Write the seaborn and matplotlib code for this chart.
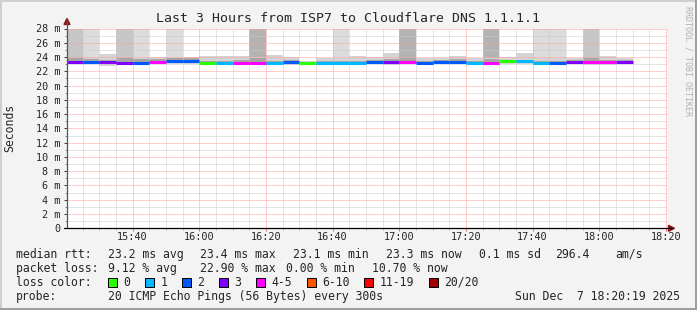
import matplotlib
matplotlib.use("Agg")
import matplotlib.pyplot as plt
from matplotlib.lines import Line2D
from matplotlib.patches import Polygon, Rectangle
import seaborn as sns
import numpy as np

# ---------------- data ----------------
title = "Last 3 Hours from ISP7 to Cloudflare DNS 1.1.1.1"
start_min = 15 * 60 + 20 + 19 / 60.0          # 15:20:19
end_min = start_min + 180                     # 18:20:19
first_bin_min = 15 * 60 + 20                  # bins of 5 minutes
bin_len_min = 5

median_ms = [23.25, 23.25, 23.25, 23.1, 23.1, 23.25, 23.4, 23.4, 23.1, 23.1,
             23.1, 23.1, 23.1, 23.25, 23.1, 23.1, 23.1, 23.1, 23.25, 23.25,
             23.25, 23.1, 23.25, 23.25, 23.1, 23.1, 23.4, 23.4, 23.1, 23.1,
             23.25, 23.25, 23.25, 23.25]
loss_pings = [3, 2, 3, 3, 2, 4, 2, 2, 0, 1,
              4, 4, 1, 2, 0, 1, 1, 1, 2, 3,
              4, 2, 2, 2, 1, 4, 0, 1, 1, 2,
              3, 4, 4, 3]
smoke_lo_ms = [23.0, 23.0, 22.8, 22.95, 23.0, 23.0, 23.0, 23.0, 23.0, 23.0,
               23.0, 23.0, 23.0, 22.85, 23.0, 23.0, 23.0, 23.0, 23.0, 22.85,
               23.0, 23.0, 23.0, 23.0, 23.0, 23.0, 23.0, 23.0, 23.0, 23.0,
               23.0, 22.95, 22.85, 23.0]
smoke_core_ms = [23.9, 23.7, 23.6, 23.8, 23.7, 23.7, 23.8, 23.8, 23.5, 23.5,
                 23.6, 23.9, 23.5, 23.6, 23.3, 23.4, 23.5, 23.5, 23.6, 23.7,
                 23.9, 23.5, 23.6, 23.7, 23.5, 23.7, 23.5, 23.6, 23.5, 23.5,
                 23.6, 23.8, 23.6, 23.6]
smoke_hi_ms = [23.9, 24.0, 24.4, 23.9, 23.8, 24.0, 23.9, 24.0, 24.1, 24.1,
               24.2, 24.0, 24.3, 24.0, 23.5, 23.8, 23.9, 24.2, 24.0, 24.5,
               23.9, 23.8, 23.9, 24.1, 23.9, 23.9, 24.0, 24.5, 23.9, 23.9,
               23.8, 23.9, 24.1, 23.9]
# number of very slow pings (smoke above the top of the graph)
slow_pings = [2, 1, 0, 2, 1, 0, 1, 0, 0, 0,
              0, 3, 0, 0, 0, 0, 1, 0, 0, 0,
              3, 0, 0, 0, 0, 3, 0, 0, 1, 1,
              0, 2, 0, 0]

x_tick_minutes = [940, 960, 980, 1000, 1020, 1040, 1060, 1080, 1100]
x_tick_labels = ["15:40", "16:00", "16:20", "16:40", "17:00", "17:20", "17:40", "18:00", "18:20"]
y_ticks = list(range(0, 29, 2))
y_tick_labels = ["0"] + [f"{v} m" for v in y_ticks[1:]]

loss_labels = ["0", "1", "2", "3", "4-5", "6-10", "11-19", "20/20"]
loss_colors = ["#26ff00", "#00b8ff", "#0059ff", "#7e00ff", "#ff00ff", "#ff5500", "#ff0000", "#a00000"]
loss_limits = [0, 1, 2, 3, 5, 10, 19, 20]

rtt_stats = ["23.2 ms avg", "23.4 ms max", "23.1 ms min", "23.3 ms now", "0.1 ms sd", "296.4", "am/s"]
loss_stats = ["9.12 % avg", "22.90 % max", "0.00 % min", "10.70 % now"]
probe_text = "20 ICMP Echo Pings (56 Bytes) every 300s"
stamp_text = "Sun Dec  7 18:20:19 2025"

# ---------------- style ----------------
sns.set_style("white")
plt.rcParams["font.family"] = ["DejaVu Sans Mono"]

W, H = 697, 310
def fx(x):
    return x / W
def fy(y):
    return 1 - y / H

fig = plt.figure(figsize=(W / 100, H / 100), dpi=100, facecolor="#f3f3f3")

AX_L, AX_R, AX_T, AX_B = 67, 667, 28.5, 228.3
ax = fig.add_axes([fx(AX_L), fy(AX_B), (AX_R - AX_L) / W, (AX_B - AX_T) / H])
ax.set_facecolor("white")
ax.set_xlim(start_min, end_min)
ax.set_ylim(0, 28)
for s in ax.spines.values():
    s.set_visible(False)

# smoke
shade = {1: "#dcdcdc", 2: "#c6c6c6", 3: "#b3b3b3"}
lefts = [first_bin_min + i * bin_len_min for i in range(len(median_ms))]
for i, left in enumerate(lefts):
    if slow_pings[i] > 0:
        ax.bar(left, 28.5 - smoke_hi_ms[i], bottom=smoke_hi_ms[i], width=bin_len_min,
               align="edge", color=shade[slow_pings[i]], linewidth=0, zorder=1)
    ax.bar(left, smoke_hi_ms[i] - smoke_lo_ms[i], bottom=smoke_lo_ms[i], width=bin_len_min,
           align="edge", color="#d4d4d4", linewidth=0, zorder=1.1)
    ax.bar(left, smoke_core_ms[i] - median_ms[i] + 0.1, bottom=median_ms[i] - 0.1,
           width=bin_len_min, align="edge", color="#a6a6a6", linewidth=0, zorder=1.2)

# grid (dotted, drawn over the smoke as rrdtool does)
def style_grid(ln):
    ln.set_dashes([1, 1])
    ln.set_snap(True)

for m in np.arange(925, 1101, 5):
    if m % 20 == 0:
        continue
    style_grid(ax.axvline(m, color="#cccccc", lw=0.72, zorder=2))
for m in x_tick_minutes:
    style_grid(ax.axvline(m, color="#ffa0a0", lw=0.72, zorder=2.1))
for v in range(1, 28, 2):
    style_grid(ax.axhline(v, color="#cccccc", lw=0.72, zorder=2))
for v in y_ticks[1:]:
    style_grid(ax.axhline(v, color="#ffa0a0", lw=0.72, zorder=2.1))

# median line coloured by loss
def loss_color(n):
    for lim, c in zip(loss_limits, loss_colors):
        if n <= lim:
            return c
    return loss_colors[-1]

for i, left in enumerate(lefts):
    ax.hlines(median_ms[i], left, left + bin_len_min, colors=loss_color(loss_pings[i]),
              lw=2.2, zorder=3, capstyle="butt")

# ticks
ax.set_xticks(x_tick_minutes, x_tick_labels)
ax.set_xticks([m for m in np.arange(925, 1101, 5) if m % 20 != 0], minor=True)
ax.set_yticks(y_ticks, y_tick_labels)
ax.set_yticks(list(range(1, 28, 2)), minor=True)
ax.tick_params(axis="x", which="major", length=2.2, width=0.72, color="#e07070",
               pad=0.8, labelsize=7.4, direction="out", bottom=True)
ax.tick_params(axis="x", which="minor", length=1.4, width=0.72, color="#b0b0b0",
               direction="out", bottom=True)
ax.tick_params(axis="y", which="major", length=2.2, width=0.72, color="#404040",
               pad=2.3, labelsize=7.3, direction="out", left=True)
ax.tick_params(axis="y", which="minor", length=1.4, width=0.72, color="#909090",
               direction="out", left=True)

# axis lines and arrows
fig.add_artist(Line2D([fx(AX_L), fx(AX_L)], [fy(AX_B), fy(21)], color="#555555", lw=0.9))
fig.add_artist(Line2D([fx(AX_L - 3), fx(672)], [fy(AX_B), fy(AX_B)], color="#000000", lw=0.9))
fig.add_artist(Polygon([[fx(64), fy(24.5)], [fx(70), fy(24.5)], [fx(67), fy(18.5)]],
                       closed=True, color="#8b1a1a", transform=fig.transFigure))
fig.add_artist(Polygon([[fx(668.5), fy(AX_B - 3)], [fx(668.5), fy(AX_B + 3)], [fx(674.5), fy(AX_B)]],
                       closed=True, color="#8b1a1a", transform=fig.transFigure))

# texts
fig.text(fx(348), fy(19), title, ha="center", va="center", fontsize=9.5)
fig.text(fx(10), fy(128), "Seconds", rotation=90, ha="center", va="center", fontsize=8.3)
fig.text(fx(688), fy(6), "RRDTOOL / TOBI OETIKER", rotation=270, ha="center", va="top",
         fontsize=6.0, color="#b0b0b0")

fs = 8.3
rtt_x = [107.5, 200, 293, 386, 479, 555, 615]
fig.text(fx(16), fy(254.3), "median rtt:", ha="left", va="center", fontsize=fs)
for t, x in zip(rtt_stats, rtt_x):
    fig.text(fx(x), fy(254.3), t, ha="left", va="center", fontsize=fs)

loss_x = [107.5, 200, 286, 372]
fig.text(fx(16), fy(268.3), "packet loss:", ha="left", va="center", fontsize=fs)
for t, x in zip(loss_stats, loss_x):
    fig.text(fx(x), fy(268.3), t, ha="left", va="center", fontsize=fs)

fig.text(fx(16), fy(282.3), "loss color:", ha="left", va="center", fontsize=fs)
char_w = 6.94
bx = 108
for lab, col in zip(loss_labels, loss_colors):
    fig.add_artist(Rectangle((fx(bx), fy(286.8)), 9 / W, 9 / H, facecolor=col,
                             edgecolor="black", lw=0.72, transform=fig.transFigure))
    fig.text(fx(bx + 15.5), fy(282.3), lab, ha="left", va="center", fontsize=fs)
    bx = bx + 15.5 + len(lab) * char_w + 14.5

fig.text(fx(16), fy(296.3), "probe:", ha="left", va="center", fontsize=fs)
fig.text(fx(107.5), fy(296.3), probe_text, ha="left", va="center", fontsize=fs)
fig.text(fx(680), fy(296.3), stamp_text, ha="right", va="center", fontsize=fs)

# frame
fig.add_artist(Line2D([0, 1], [fy(1), fy(1)], color="#cfcfcf", lw=1.44))
fig.add_artist(Line2D([fx(1), fx(1)], [0, 1], color="#cfcfcf", lw=1.44))
fig.add_artist(Line2D([0, 1], [fy(309), fy(309)], color="#9e9e9e", lw=1.44))
fig.add_artist(Line2D([fx(696), fx(696)], [0, 1], color="#9e9e9e", lw=1.44))

fig.savefig("out.png", dpi=100, facecolor=fig.get_facecolor())
